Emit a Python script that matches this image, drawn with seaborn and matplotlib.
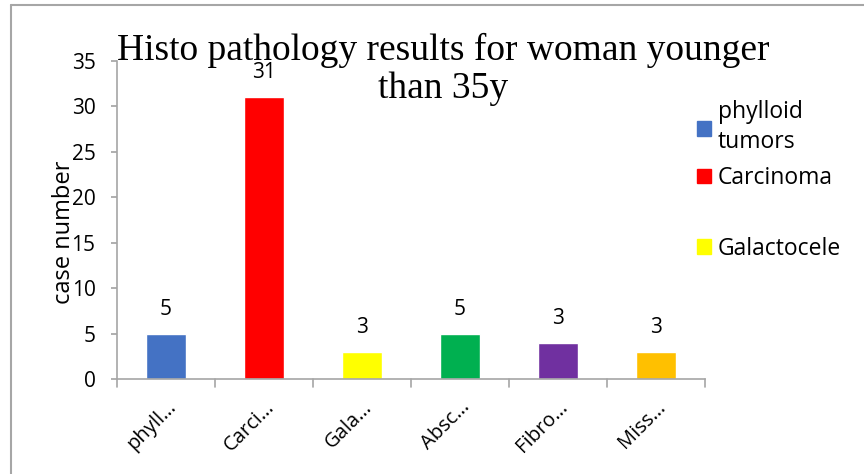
import matplotlib
matplotlib.use("Agg")
import matplotlib.pyplot as plt
from matplotlib.lines import Line2D
from matplotlib.patches import Patch
import seaborn as sns
import pandas as pd

# data
categories = ["phyll…", "Carci…", "Gala…", "Absc…", "Fibro…", "Miss…"]
values = [5, 31, 3, 5, 4, 3]
value_labels = ["5", "31", "3", "5", "3", "3"]
colors = ["#4472C4", "#FF0000", "#FFFF00", "#00B050", "#7030A0", "#FFC000"]
legend_labels = ["phylloid\ntumors", "Carcinoma", " ", "Galactocele"]

GRAY = "#A6A6A6"

sns.set_theme(style="white")
plt.rcParams["font.family"] = ["Open Sans", "DejaVu Sans"]
plt.rcParams["text.color"] = "black"
plt.rcParams["axes.labelcolor"] = "black"
plt.rcParams["xtick.color"] = "black"
plt.rcParams["ytick.color"] = "black"

df = pd.DataFrame({"category": categories, "cases": values})

fig = plt.figure(figsize=(8.64, 4.74), dpi=100, facecolor="white")
ax = fig.add_axes([117 / 864, 1 - 379 / 474, 588 / 864, 318 / 474])

sns.barplot(data=df, x="category", y="cases", hue="category", palette=colors,
            width=0.4, legend=False, ax=ax, saturation=1)

for cont, lab in zip(ax.containers, value_labels):
    ax.bar_label(cont, labels=[lab], padding=10, fontsize=15, color="black")

ax.set_ylim(0, 35)
ax.set_xlim(-0.5, len(categories) - 0.5)
ax.set_yticks(range(0, 36, 5))
ax.tick_params(axis="y", labelsize=15, length=4.5, color=GRAY, left=True, pad=11)
ax.set_xticks(range(len(categories)))
ax.set_xticklabels(categories, rotation=45, ha="right", rotation_mode="anchor", fontsize=14.5)
ax.tick_params(axis="x", length=0, pad=13)
# boundary ticks between categories
for b in [i - 0.5 for i in range(len(categories) + 1)]:
    ax.plot([b, b], [0, -0.025], transform=ax.get_xaxis_transform(), color=GRAY,
            lw=1.2, clip_on=False)

ax.set_xlabel("")
ax.set_ylabel("case number", fontsize=17)
ax.yaxis.set_label_coords(-0.07, 0.46)
ax.spines[["top", "right"]].set_visible(False)
for s in ["left", "bottom"]:
    ax.spines[s].set_color(GRAY)
    ax.spines[s].set_linewidth(1.2)

fig.text(443 / 864, 1 - 33 / 474, "Histo pathology results for woman younger\nthan 35y",
         ha="center", va="top", fontsize=27, family="Liberation Serif", linespacing=1.12)

handles = [Patch(color=colors[0]), Patch(color=colors[1]),
           Patch(color="none"), Patch(color=colors[2])]
leg = fig.legend(handles, legend_labels, loc="upper left",
                 bbox_to_anchor=(688 / 864, 1 - 91 / 474),
                 frameon=False, fontsize=16.5, handlelength=0.6, handleheight=0.6,
                 handletextpad=0.3, labelspacing=0.5, borderaxespad=0)
for t in leg.get_texts():
    t.set_linespacing(1.35)

# outer chart frame (top and left edges)
fig.add_artist(Line2D([11 / 864, 1], [1 - 5 / 474, 1 - 5 / 474], color=GRAY, lw=1.5))
fig.add_artist(Line2D([11 / 864, 11 / 864], [0, 1 - 5 / 474], color=GRAY, lw=1.5))

fig.savefig("out.png", dpi=100, facecolor="white")
